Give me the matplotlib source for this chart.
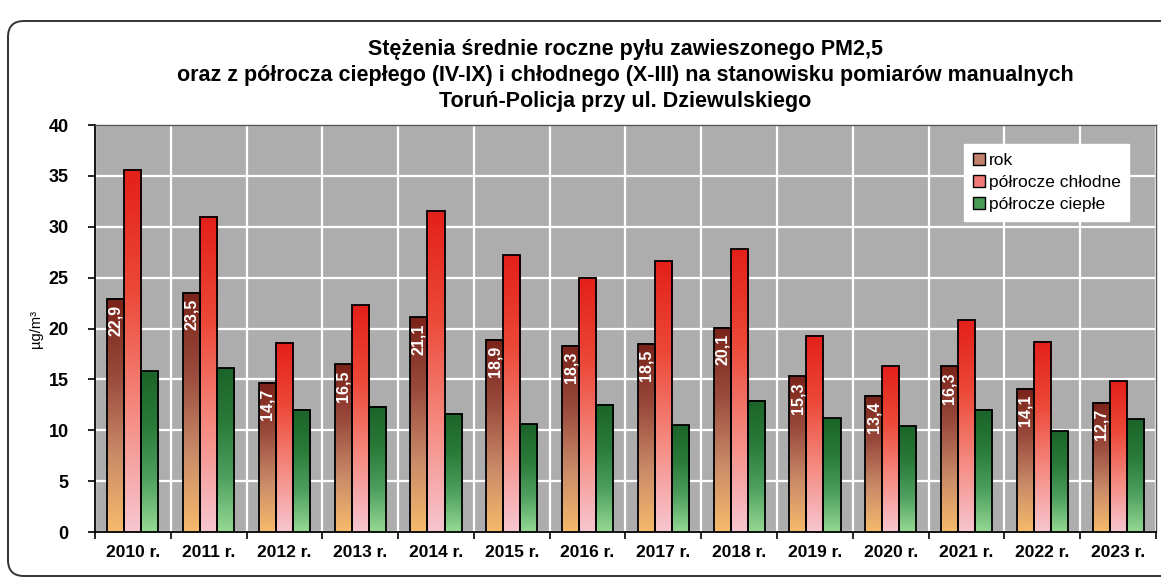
import numpy as np
import matplotlib.pyplot as plt
from matplotlib.colors import LinearSegmentedColormap
from matplotlib.patches import FancyBboxPatch, Patch
from matplotlib.transforms import IdentityTransform

plt.rcParams['font.family'] = ['Liberation Sans', 'DejaVu Sans']

years = ['2010 r.', '2011 r.', '2012 r.', '2013 r.', '2014 r.', '2015 r.', '2016 r.',
         '2017 r.', '2018 r.', '2019 r.', '2020 r.', '2021 r.', '2022 r.', '2023 r.']
rok = [22.9, 23.5, 14.7, 16.5, 21.1, 18.9, 18.3, 18.5, 20.1, 15.3, 13.4, 16.3, 14.1, 12.7]
chlodne = [35.6, 31.0, 18.6, 22.3, 31.6, 27.2, 25.0, 26.6, 27.8, 19.3, 16.3, 20.8, 18.7, 14.8]
cieple = [15.8, 16.1, 12.0, 12.3, 11.6, 10.6, 12.5, 10.5, 12.9, 11.2, 10.4, 12.0, 9.9, 11.1]

cm_rok = LinearSegmentedColormap.from_list('rok', ['#f6bb6c', '#c98a68', '#9a4a3c', '#7a2219'])
cm_chl = LinearSegmentedColormap.from_list('chl', ['#f7c6d0', '#f58a80', '#ec4838', '#e3201a'])
cm_cie = LinearSegmentedColormap.from_list('cie', ['#96d894', '#4fa060', '#2a7a3a', '#1c6429'])

fig = plt.figure(figsize=(11.61, 5.79), dpi=100)
ax = fig.add_axes([0.0818, 0.081, 0.9139, 0.703])

# rounded frame around the whole chart
frame = FancyBboxPatch((8, 3), 1180, 555, boxstyle='round,pad=0,rounding_size=16',
                       transform=IdentityTransform(), facecolor='none',
                       edgecolor='#333333', linewidth=1.4)
fig.patches.append(frame)

x = np.arange(len(years))
w = 0.225
grad = np.linspace(0, 1, 256).reshape(-1, 1)


def grad_bars(pos, vals, cmap):
    bars = ax.bar(pos, vals, width=w, facecolor='none', edgecolor='black',
                  linewidth=1.3, zorder=4)
    for b in bars:
        x0, y0 = b.get_xy()
        ax.imshow(grad, extent=[x0, x0 + b.get_width(), y0, y0 + b.get_height()],
                  cmap=cmap, origin='lower', aspect='auto', zorder=3,
                  interpolation='bilinear')
    return bars


b1 = grad_bars(x - w, rok, cm_rok)
b2 = grad_bars(x, chlodne, cm_chl)
b3 = grad_bars(x + w, cieple, cm_cie)

for xi, v in zip(x - w, rok):
    ax.text(xi, v - 0.6, f'{v:.1f}'.replace('.', ','), rotation=90, ha='center', va='top',
            color='white', fontsize=11.5, fontweight='bold', zorder=5)

ax.set_xlim(-0.5, len(years) - 0.5)
ax.set_ylim(0, 40)
ax.set_facecolor('#adadad')
ax.set_yticks(np.arange(0, 41, 5))
ax.set_xticks(x)
ax.set_xticklabels(years)
ax.set_xticks(np.arange(-0.5, len(years), 1), minor=True)
ax.tick_params(axis='x', which='major', length=0, pad=9, labelsize=12.5)
ax.tick_params(axis='x', which='minor', length=5, direction='out', width=1.2)
ax.tick_params(axis='y', length=5, direction='out', width=1.2, labelsize=13, pad=14)
for lab in ax.get_xticklabels() + ax.get_yticklabels():
    lab.set_fontweight('bold')
ax.grid(axis='y', color='white', linewidth=1.6, zorder=1)
ax.grid(axis='x', which='minor', color='white', linewidth=1.6, zorder=1)
ax.set_axisbelow(True)
for s in ['left', 'bottom']:
    ax.spines[s].set_color('black')
    ax.spines[s].set_linewidth(1.3)
for s in ['top', 'right']:
    ax.spines[s].set_color('#555555')
    ax.spines[s].set_linewidth(1.0)

ax.set_ylabel('µg/m³', fontsize=10.5, labelpad=4)

ax.set_title('Stężenia średnie roczne pyłu zawieszonego PM2,5\n'
             'oraz z półrocza ciepłego (IV-IX) i chłodnego (X-III) na stanowisku pomiarów manualnych\n'
             'Toruń-Policja przy ul. Dziewulskiego',
             fontsize=15.5, fontweight='bold', linespacing=1.3, pad=13)

handles = [Patch(facecolor='#c0806a', edgecolor='black', label='rok'),
           Patch(facecolor='#f07a78', edgecolor='black', label='półrocze chłodne'),
           Patch(facecolor='#4a9a58', edgecolor='black', label='półrocze ciepłe')]
leg = ax.legend(handles=handles, loc='upper right', bbox_to_anchor=(0.983, 0.974),
                fontsize=12.5, frameon=True, fancybox=False, framealpha=1,
                edgecolor='white', handlelength=0.7, handleheight=0.7,
                handletextpad=0.2, labelspacing=0.4, borderpad=0.5)
leg.set_zorder(6)

fig.savefig('out.png', dpi=100)
